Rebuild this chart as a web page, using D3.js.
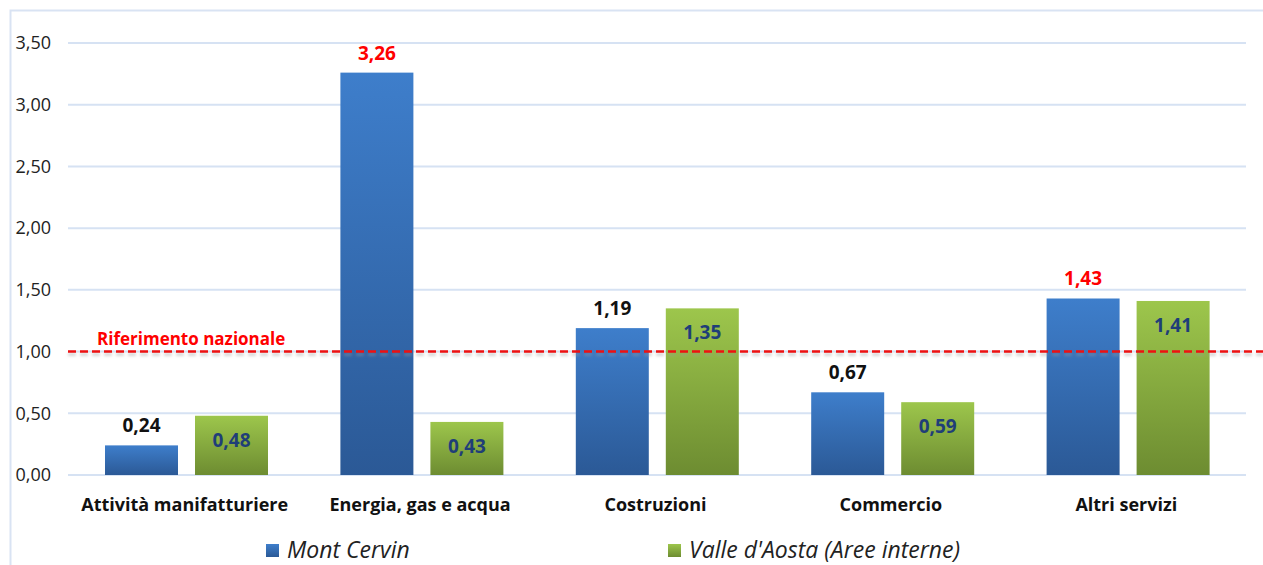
<!DOCTYPE html>
<html>
<head>
<meta charset="utf-8">
<script src="https://cdn.jsdelivr.net/npm/d3@7"></script>
<style>
  body { margin: 0; background: #fff; }
  svg { display: block; font-family: "Open Sans", "Liberation Sans", sans-serif; }
</style>
</head>
<body>
<div id="main-vis"></div>
<script>
const categories = ["Attività manifatturiere", "Energia, gas e acqua", "Costruzioni", "Commercio", "Altri servizi"]
const montCervin = [0.24, 3.26, 1.19, 0.67, 1.43]
const valleAosta = [0.48, 0.43, 1.35, 0.59, 1.41]
const seriesNames = ["Mont Cervin", "Valle d'Aosta (Aree interne)"]
const yTicks = [0, 0.5, 1, 1.5, 2, 2.5, 3, 3.5]
const reference = 1
const redLabels = [false, true, false, false, true]

window.onload = setup

function setup () {
    const width = 1263, height = 565
    const fmt = v => d3.format(".2f")(v).replace(".", ",")

    const svg = d3.create("svg")
        .attr("width", width)
        .attr("height", height)

    const defs = svg.append("defs")
    const grads = [["gBlue", "#3e7ecb", "#2b5996"], ["gGreen", "#9dc64c", "#6d8c31"]]
    grads.forEach(([id, top, bottom]) => {
        const g = defs.append("linearGradient").attr("id", id)
            .attr("x1", 0).attr("y1", 0).attr("x2", 0).attr("y2", 1)
        g.append("stop").attr("offset", "0%").attr("stop-color", top)
        g.append("stop").attr("offset", "100%").attr("stop-color", bottom)
    })
    defs.append("filter").attr("id", "blur")
        .attr("filterUnits", "userSpaceOnUse")
        .attr("x", 0).attr("y", 0).attr("width", width).attr("height", height)
        .append("feGaussianBlur").attr("stdDeviation", 1.5)

    // outer frame
    svg.append("rect")
        .attr("x", 10.5).attr("y", 10.5)
        .attr("width", width + 10).attr("height", height + 10)
        .attr("fill", "none").attr("stroke", "#d9e3f3").attr("stroke-width", 2)

    const x = d3.scaleBand().domain(categories).range([68, 1245])
    const y = d3.scaleLinear().domain([0, 3.5]).range([475, 43])
    const inner = d3.scaleBand().domain([0, 1]).range([37, 200]).paddingInner(0.189)

    // gridlines
    svg.append("g").selectAll("line")
        .data(yTicks)
        .join("line")
            .attr("x1", 68).attr("x2", 1246)
            .attr("y1", d => y(d)).attr("y2", d => y(d))
            .attr("stroke", "#d6e2f3").attr("stroke-width", 2)

    // y axis labels
    const yAxis = svg.append("g")
        .attr("transform", "translate(51,0)")
        .call(d3.axisLeft(y).tickValues(yTicks).tickFormat(fmt).tickSize(0).tickPadding(0))
    yAxis.select(".domain").remove()
    yAxis.selectAll("text")
        .attr("font-size", 18).attr("fill", "#222")
        .attr("font-family", "Open Sans, sans-serif")

    const rows = categories.map((c, i) => ({ c, v: [montCervin[i], valleAosta[i]], red: redLabels[i] }))

    const groups = svg.append("g").selectAll("g")
        .data(rows)
        .join("g")
            .attr("transform", d => `translate(${x(d.c)},0)`)

    groups.selectAll("rect")
        .data(d => d.v.map((v, k) => ({ v, k })))
        .join("rect")
            .attr("x", d => inner(d.k))
            .attr("width", inner.bandwidth())
            .attr("y", d => y(d.v))
            .attr("height", d => y(0) - y(d.v))
            .attr("fill", d => d.k === 0 ? "url(#gBlue)" : "url(#gGreen)")

    // labels above blue bars
    groups.append("text")
        .attr("x", inner(0) + inner.bandwidth() / 2)
        .attr("y", d => y(d.v[0]) - 13)
        .attr("text-anchor", "middle")
        .attr("font-size", 19).attr("font-weight", "bold")
        .attr("fill", d => d.red ? "#ff0000" : "#111")
        .text(d => fmt(d.v[0]))

    // labels inside green bars
    groups.append("text")
        .attr("x", inner(1) + inner.bandwidth() / 2)
        .attr("y", d => y(d.v[1]) + 31)
        .attr("text-anchor", "middle")
        .attr("font-size", 19).attr("font-weight", "bold")
        .attr("fill", "#1f3e78")
        .text(d => fmt(d.v[1]))

    // category labels
    svg.append("g").selectAll("text")
        .data(categories)
        .join("text")
            .attr("x", d => x(d) + x.bandwidth() / 2 - 1)
            .attr("y", 511)
            .attr("text-anchor", "middle")
            .attr("font-size", 18).attr("font-weight", "bold")
            .attr("fill", "#111")
            .text(d => d)

    // national reference line (with soft shadow)
    svg.append("line")
        .attr("x1", 68).attr("x2", width)
        .attr("y1", y(reference) + 3).attr("y2", y(reference) + 3)
        .attr("stroke", "#999").attr("stroke-opacity", 0.5).attr("stroke-width", 2.5)
        .attr("stroke-dasharray", "8,4")
        .attr("filter", "url(#blur)")
    svg.append("line")
        .attr("x1", 68).attr("x2", width)
        .attr("y1", y(reference)).attr("y2", y(reference))
        .attr("stroke", "#ee1111").attr("stroke-width", 2.5)
        .attr("stroke-dasharray", "8,4")
    svg.append("text")
        .attr("x", 97).attr("y", y(reference) - 7)
        .attr("font-size", 17).attr("font-weight", "bold")
        .attr("fill", "#ff0000")
        .text("Riferimento nazionale")

    // legend
    const legendX = [266, 668]
    const legend = svg.append("g").selectAll("g")
        .data(seriesNames)
        .join("g")
            .attr("transform", (d, i) => `translate(${legendX[i]},544)`)
    legend.append("rect")
        .attr("width", 13).attr("height", 13)
        .attr("fill", (d, i) => i === 0 ? "url(#gBlue)" : "url(#gGreen)")
    legend.append("text")
        .attr("x", 21).attr("y", 14)
        .attr("font-size", 23).attr("font-style", "italic")
        .attr("fill", "#222")
        .text(d => d)

    d3.select("#main-vis").node().appendChild(svg.node())
}
</script>
</body>
</html>
